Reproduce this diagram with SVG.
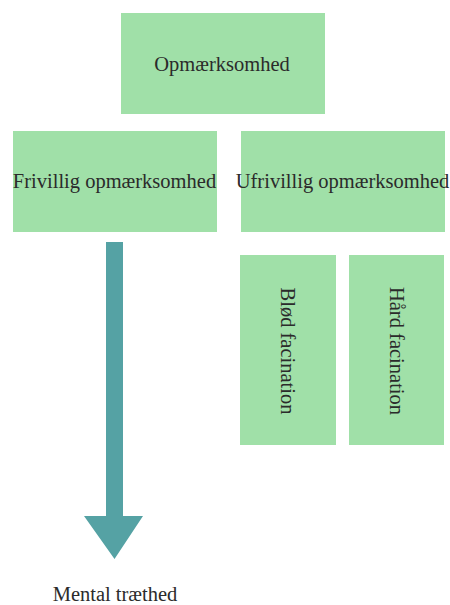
<svg xmlns="http://www.w3.org/2000/svg" width="450" height="605" viewBox="0 0 450 605">
<style>
.box{fill:#a0e0a8;}
.t{font-family:"Liberation Serif","Times New Roman",serif;font-size:20.5px;fill:#2b2b2b;text-anchor:middle;}
</style>
<rect width="450" height="605" fill="#ffffff"/>
<g id="opmaerksomhed"><rect class="box" x="121" y="13" width="204" height="101"/><text class="t" x="222" y="71">Opmærksomhed</text></g>
<g id="frivillig"><rect class="box" x="13" y="131" width="204" height="101"/><text class="t" x="114.5" y="188">Frivillig opmærksomhed</text></g>
<g id="ufrivillig"><rect class="box" x="241" y="131" width="204" height="101"/><text class="t" x="342.5" y="188">Ufrivillig opmærksomhed</text></g>
<g id="blod"><rect class="box" x="240" y="255" width="96" height="190"/><text class="t" transform="translate(281,351) rotate(90)">Blød facination</text></g>
<g id="hard"><rect class="box" x="349" y="255" width="95" height="190"/><text class="t" transform="translate(390,351) rotate(90)">Hård facination</text></g>
<g id="connectors"><polygon points="106,242 123,242 123,516 143,516 114.5,559 84,516 106,516" fill="#55a2a4"/></g>
<g id="mental"><text class="t" x="115" y="601">Mental træthed</text></g>
</svg>
